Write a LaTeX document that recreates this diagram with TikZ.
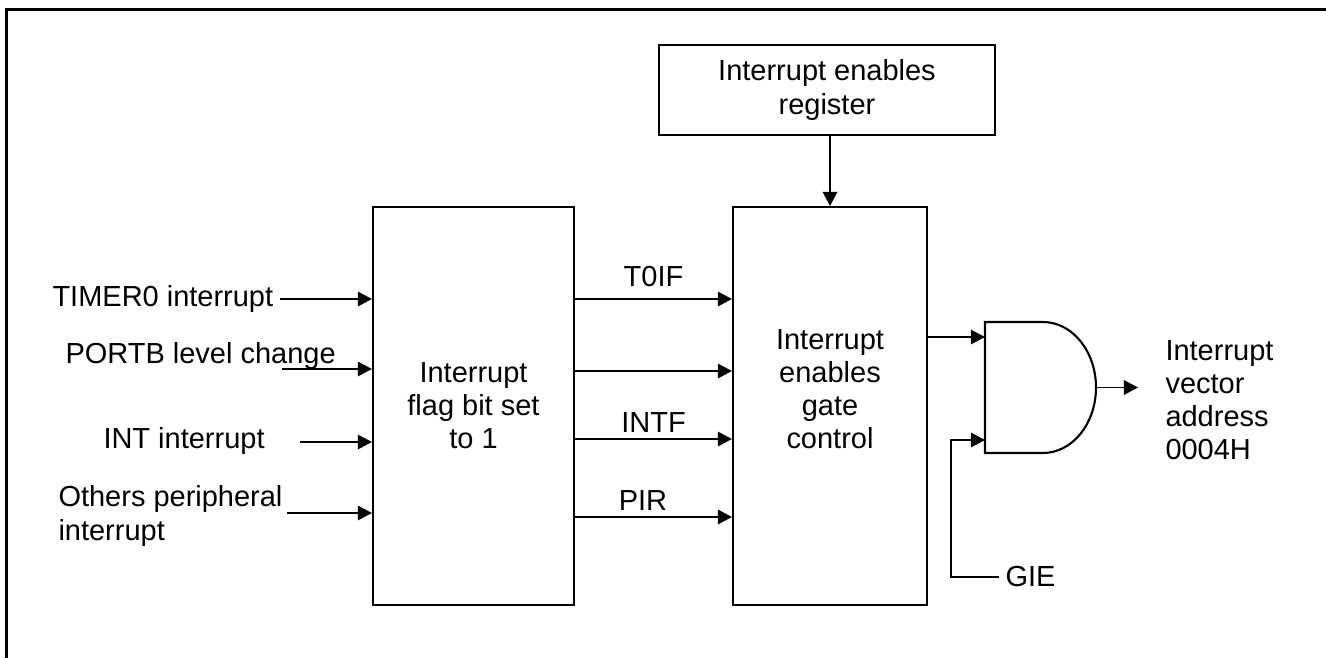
\documentclass[tikz,border=0pt]{standalone}
\usepackage{fontspec}
\setmainfont{Liberation Sans}
\usetikzlibrary{arrows.meta}

\tikzset{
	blockbox/.style = {draw, line width=1.2pt, inner sep=0pt, align=center},
	arr/.style = {line width=1pt, -{Triangle[length=8pt,width=8.2pt]}},
	lbl/.style = {align=left, inner sep=3.5pt},
}

\begin{document}
\begin{tikzpicture}[x=0.02cm, y=-0.02cm, font=\fontsize{16.5}{18.8}\selectfont]
	\useasboundingbox (0,0) rectangle (1326,657);
	\begin{scope}
		\clip (0,0) rectangle (1326,657);
		\draw[line width=1.5pt] (6.5,9.5) rectangle (1360,700);
	\end{scope}
	% blocks
	\node[blockbox, minimum width=4.02cm, minimum height=7.96cm] (flag) at (473.5,406) {Interrupt\\flag bit set\\to 1};
	\node[blockbox, minimum width=3.88cm, minimum height=7.96cm] (gate) at (830,406) {};
	\node[align=center] (gatetxt) at (830,389) {Interrupt\\enables\\gate\\control};
	\node[blockbox, minimum width=6.72cm, minimum height=1.8cm] (ier) at (827,90) {Interrupt enables\\register};
	\draw[arr] (ier.south -| gate.north) -- (gate.north);
	% inputs
	\node[lbl, anchor=west] (timer) at (46,299) {TIMER0 interrupt};
	\node[lbl, anchor=west] (portb) at (59,356) {PORTB level change};
	\node[lbl, anchor=west] (intr) at (97,441) {INT interrupt};
	\node[lbl, anchor=west] (other) at (52,516) {Others peripheral\\interrupt};
	\coordinate (portin) at (282,369);
	\coordinate (intin) at (300,442);
	\coordinate (othin) at (287,513);
	\draw[arr] (timer.east) -- (timer.east -| flag.west);
	\draw[arr] (portin) -- (portin -| flag.west);
	\draw[arr] (intin) -- (intin -| flag.west);
	\draw[arr] (othin) -- (othin -| flag.west);
	% flags
	\coordinate (rowa) at (0,299);
	\coordinate (rowb) at (0,371);
	\coordinate (rowc) at (0,439);
	\coordinate (rowd) at (0,517);
	\draw[arr] (flag.east |- rowa) -- node[above, yshift=3pt] (tif) {T0IF} (gate.west |- rowa);
	\draw[arr] (flag.east |- rowb) -- (gate.west |- rowb);
	\draw[arr] (flag.east |- rowc) -- node[above] (inf) {INTF} (gate.west |- rowc);
	\draw[arr] (flag.east |- rowd) -- node[above, xshift=-6pt] (pir) {PIR} (gate.west |- rowd);
	% and gate
	\draw[line width=1.2pt] (985,322) -- (1043,322) arc[start angle=90, end angle=-90, x radius=1.06cm, y radius=1.31cm] -- (985,453) -- cycle;
	\coordinate (anda) at (985,337);
	\coordinate (andb) at (985,440);
	\coordinate (andout) at (1096,387.5);
	\coordinate (gieturn) at (951,440);
	\coordinate (vecin) at (1138,387.5);
	\draw[arr] (gate.east |- anda) -- (anda);
	\node[lbl, anchor=west] (gie) at (999,577) {GIE};
	\draw[arr] (gie.west) -| (gieturn) -- (andb);
	\node[lbl, anchor=west] (vec) at (1159,400) {Interrupt\\vector\\address\\0004H};
	\draw[arr] (andout) -- (vecin);
\end{tikzpicture}
\end{document}
